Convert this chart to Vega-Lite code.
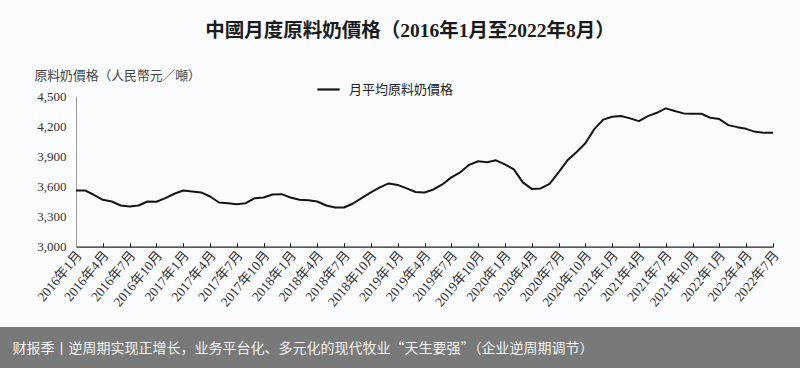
{
  "$schema": "https://vega.github.io/schema/vega-lite/v6.json",
  "width": 800,
  "height": 327,
  "autosize": {"type": "none"},
  "padding": {"left": 0, "top": 0, "right": 0, "bottom": 41},
  "background": "#787a79",
  "title": {
    "text": "中國月度原料奶價格（2016年1月至2022年8月）",
    "anchor": "middle",
    "offset": -31,
    "baseline": "middle",
    "dx": 10,
    "dy": 19,
    "font": "Liberation Serif, Noto Sans CJK TC",
    "fontSize": 19.5,
    "fontWeight": "bold",
    "color": "#1a1a1a"
  },
  "data": {
    "values": [
      {"month": "2016年1月", "price": 3560}, {"month": "2016年2月", "price": 3560}, {"month": "2016年3月", "price": 3517}, {"month": "2016年4月", "price": 3467}, {"month": "2016年5月", "price": 3450}, {"month": "2016年6月", "price": 3410}, {"month": "2016年7月", "price": 3400}, {"month": "2016年8月", "price": 3410}, {"month": "2016年9月", "price": 3450}, {"month": "2016年10月", "price": 3447}, {"month": "2016年11月", "price": 3483}, {"month": "2016年12月", "price": 3527},
      {"month": "2017年1月", "price": 3560}, {"month": "2017年2月", "price": 3550}, {"month": "2017年3月", "price": 3540}, {"month": "2017年4月", "price": 3500}, {"month": "2017年5月", "price": 3440}, {"month": "2017年6月", "price": 3433}, {"month": "2017年7月", "price": 3423}, {"month": "2017年8月", "price": 3433}, {"month": "2017年9月", "price": 3483}, {"month": "2017年10月", "price": 3490}, {"month": "2017年11月", "price": 3520}, {"month": "2017年12月", "price": 3523},
      {"month": "2018年1月", "price": 3490}, {"month": "2018年2月", "price": 3467}, {"month": "2018年3月", "price": 3463}, {"month": "2018年4月", "price": 3450}, {"month": "2018年5月", "price": 3410}, {"month": "2018年6月", "price": 3390}, {"month": "2018年7月", "price": 3390}, {"month": "2018年8月", "price": 3430}, {"month": "2018年9月", "price": 3485}, {"month": "2018年10月", "price": 3540}, {"month": "2018年11月", "price": 3590}, {"month": "2018年12月", "price": 3630},
      {"month": "2019年1月", "price": 3615}, {"month": "2019年2月", "price": 3580}, {"month": "2019年3月", "price": 3545}, {"month": "2019年4月", "price": 3540}, {"month": "2019年5月", "price": 3570}, {"month": "2019年6月", "price": 3620}, {"month": "2019年7月", "price": 3690}, {"month": "2019年8月", "price": 3740}, {"month": "2019年9月", "price": 3815}, {"month": "2019年10月", "price": 3850}, {"month": "2019年11月", "price": 3840}, {"month": "2019年12月", "price": 3860},
      {"month": "2020年1月", "price": 3820}, {"month": "2020年2月", "price": 3770}, {"month": "2020年3月", "price": 3640}, {"month": "2020年4月", "price": 3575}, {"month": "2020年5月", "price": 3580}, {"month": "2020年6月", "price": 3625}, {"month": "2020年7月", "price": 3740}, {"month": "2020年8月", "price": 3860}, {"month": "2020年9月", "price": 3940}, {"month": "2020年10月", "price": 4030}, {"month": "2020年11月", "price": 4170}, {"month": "2020年12月", "price": 4265},
      {"month": "2021年1月", "price": 4293}, {"month": "2021年2月", "price": 4300}, {"month": "2021年3月", "price": 4277}, {"month": "2021年4月", "price": 4250}, {"month": "2021年5月", "price": 4300}, {"month": "2021年6月", "price": 4333}, {"month": "2021年7月", "price": 4377}, {"month": "2021年8月", "price": 4350}, {"month": "2021年9月", "price": 4327}, {"month": "2021年10月", "price": 4323}, {"month": "2021年11月", "price": 4323}, {"month": "2021年12月", "price": 4283},
      {"month": "2022年1月", "price": 4270}, {"month": "2022年2月", "price": 4210}, {"month": "2022年3月", "price": 4190}, {"month": "2022年4月", "price": 4173}, {"month": "2022年5月", "price": 4143}, {"month": "2022年6月", "price": 4133}, {"month": "2022年7月", "price": 4133}
    ]
  },
  "mark": {"type": "line", "strokeWidth": 2, "strokeJoin": "round"},
  "encoding": {
    "x": {
      "field": "month",
      "type": "ordinal",
      "sort": null,
      "scale": {"type": "point", "range": [76, 773], "padding": 0},
      "axis": {
        "orient": "bottom",
        "offset": -80.3,
        "values": ["2016年1月", "2016年4月", "2016年7月", "2016年10月", "2017年1月", "2017年4月", "2017年7月", "2017年10月", "2018年1月", "2018年4月", "2018年7月", "2018年10月", "2019年1月", "2019年4月", "2019年7月", "2019年10月", "2020年1月", "2020年4月", "2020年7月", "2020年10月", "2021年1月", "2021年4月", "2021年7月", "2021年10月", "2022年1月", "2022年4月", "2022年7月"],
        "labelAngle": -50,
        "labelAlign": "right",
        "labelBaseline": "middle",
        "labelOverlap": false,
        "labelFont": "Liberation Serif, Noto Sans CJK TC",
        "labelFontSize": 13.5,
        "labelColor": "#333333",
        "labelPadding": 10,
        "labelOffset": 3,
        "tickSize": -4,
        "tickColor": "#222222",
        "domainColor": "#222222",
        "domainWidth": 1.2,
        "grid": false,
        "title": "财报季丨逆周期实现正增长，业务平台化、多元化的现代牧业“天生要强”（企业逆周期调节）",
        "titleX": 12,
        "titleY": 102,
        "titleAngle": 0,
        "titleAlign": "left",
        "titleBaseline": "middle",
        "titleFont": "Noto Sans CJK SC",
        "titleFontSize": 14,
        "titleFontWeight": "normal",
        "titleColor": "#f2f2f2"
      }
    },
    "y": {
      "field": "price",
      "type": "quantitative",
      "scale": {"domain": [3000, 4500], "range": [246.7, 96], "zero": false, "nice": false},
      "axis": {
        "offset": -76,
        "values": [3000, 3300, 3600, 3900, 4200, 4500],
        "format": ",.0f",
        "ticks": false,
        "grid": false,
        "domainColor": "#999999",
        "labelFont": "Liberation Serif",
        "labelFontSize": 13,
        "labelColor": "#333333",
        "labelPadding": 10,
        "title": "原料奶價格（人民幣元／噸）",
        "titleX": -42,
        "titleY": 75,
        "titleAngle": 0,
        "titleAlign": "left",
        "titleBaseline": "middle",
        "titleFont": "Noto Sans CJK TC",
        "titleFontSize": 12.8,
        "titleFontWeight": "normal",
        "titleColor": "#444444"
      }
    },
    "color": {
      "datum": "月平均原料奶價格",
      "scale": {"range": ["#141414"]},
      "legend": {
        "orient": "none",
        "legendX": 316,
        "legendY": 77,
        "title": null,
        "symbolType": "stroke",
        "symbolStrokeWidth": 2.2,
        "symbolSize": 500,
        "labelFont": "Noto Sans CJK TC",
        "labelFontSize": 13,
        "labelColor": "#222222",
        "padding": 0,
        "labelOffset": 8
      }
    }
  },
  "config": {"view": {"fill": "#fbfcfe", "stroke": null}}
}
